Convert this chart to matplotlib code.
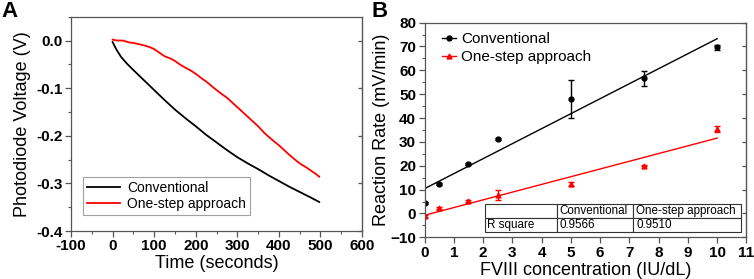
import matplotlib
matplotlib.use("Agg")
import matplotlib.pyplot as plt
from matplotlib.lines import Line2D
from matplotlib.ticker import MultipleLocator
import numpy as np

matplotlib.rcParams['font.family'] = ['Liberation Sans', 'DejaVu Sans']
matplotlib.rcParams['xtick.labelsize'] = 11
matplotlib.rcParams['ytick.labelsize'] = 11

# panel A: photodiode voltage traces
t_conv = [0, 5, 10, 20, 35, 50, 75, 100, 125, 150, 175, 200, 225, 250, 275,
          300, 325, 350, 375, 400, 425, 450, 475, 497]
v_conv = [-0.003, -0.012, -0.020, -0.034, -0.049, -0.062, -0.083, -0.104,
          -0.125, -0.145, -0.163, -0.180, -0.198, -0.214, -0.230, -0.245,
          -0.258, -0.270, -0.283, -0.295, -0.307, -0.318, -0.329, -0.339]

t_one = [0, 10, 25, 40, 50, 65, 75, 90, 100, 115, 125, 140, 150, 165, 175,
         190, 200, 215, 225, 240, 250, 265, 275, 290, 300, 315, 325, 340,
         350, 365, 375, 390, 400, 415, 425, 440, 450, 465, 475, 490, 497]
v_one = [0.002, 0.000, 0.000, -0.004, -0.005, -0.008, -0.010, -0.014,
         -0.018, -0.027, -0.033, -0.038, -0.043, -0.052, -0.057, -0.064,
         -0.070, -0.080, -0.086, -0.097, -0.104, -0.114, -0.120, -0.132,
         -0.140, -0.152, -0.160, -0.172, -0.180, -0.194, -0.202, -0.213,
         -0.220, -0.232, -0.240, -0.251, -0.258, -0.266, -0.272, -0.281,
         -0.286]

# panel B: reaction rates
conc = [0, 0.5, 1.5, 2.5, 5, 7.5, 10]
rate_conv = [4.2, 12.2, 20.8, 31.2, 47.8, 56.6, 69.6]
err_conv = [0.4, 0.4, 0.5, 0.4, 8.0, 3.3, 1.0]
rate_one = [-1.0, 2.2, 5.3, 7.7, 12.3, 20.0, 35.4]
err_one = [0.4, 0.4, 0.4, 2.2, 1.0, 0.3, 1.2]

table_rows = [["", "Conventional", "One-step approach"],
              ["R square", "0.9566", "0.9510"]]

fig = plt.figure(figsize=(7.54, 2.79), dpi=100)

# ---- A ----
axa = fig.add_axes([0.0942, 0.172, 0.386, 0.768])
axa.plot(t_conv, v_conv, color='black', lw=1.3, label='Conventional')
axa.plot(t_one, v_one, color='#ff0000', lw=1.3, label='One-step approach')
axa.set_xlim(-100, 600)
axa.set_ylim(-0.4, 0.05)
axa.xaxis.set_minor_locator(MultipleLocator(50))
axa.yaxis.set_minor_locator(MultipleLocator(0.05))
axa.set_yticks([0.0, -0.1, -0.2, -0.3, -0.4])
axa.set_yticklabels(['0.0', '-0.1', '-0.2', '-0.3', '-0.4'])
axa.set_xticks([-100, 0, 100, 200, 300, 400, 500, 600])
axa.set_xticklabels(['-100', '0', '100', '200', '300', '400', '500', '600'])
axa.set_xlabel('Time (seconds)', fontsize=13, labelpad=1)
axa.set_ylabel('Photodiode Voltage (V)', fontsize=13, labelpad=4)
leg = axa.legend(loc='lower left', bbox_to_anchor=(0.04, 0.075), borderaxespad=0,
                 fontsize=10, fancybox=False, edgecolor='#888888',
                 handlelength=2.4, handletextpad=0.5, labelspacing=0.15,
                 borderpad=0.3)
leg.get_frame().set_linewidth(0.8)

# ---- B ----
axb = fig.add_axes([0.563, 0.1495, 0.427, 0.7695])
axb.errorbar(conc, rate_conv, yerr=err_conv, fmt='o', color='black', ms=3.5,
             elinewidth=1, capsize=2, capthick=1)
axb.errorbar(conc, rate_one, yerr=err_one, fmt='^', color='#ff0000', ms=3.5,
             elinewidth=1, capsize=2, capthick=1)
xfit = np.array([0, 10])
p_conv = np.polyfit(conc, rate_conv, 1)
p_one = np.polyfit(conc, rate_one, 1)
axb.plot(xfit, np.polyval(p_conv, xfit), color='black', lw=1)
axb.plot(xfit, np.polyval(p_one, xfit), color='#ff0000', lw=1)
axb.set_xlim(0, 11)
axb.set_ylim(-10, 80)
axb.xaxis.set_major_locator(MultipleLocator(1))
axb.yaxis.set_major_locator(MultipleLocator(10))
axb.yaxis.set_minor_locator(MultipleLocator(5))
axb.set_xlabel('FVIII concentration (IU/dL)', fontsize=13, labelpad=2)
axb.set_ylabel('Reaction Rate (mV/min)', fontsize=13, labelpad=0)
handles = [Line2D([], [], color='black', marker='o', ms=3.5, lw=1),
           Line2D([], [], color='#ff0000', marker='^', ms=3.5, lw=1)]
axb.legend(handles, ['Conventional', 'One-step approach'], loc='upper left',
           bbox_to_anchor=(0.055, 0.955), borderaxespad=0, borderpad=0,
           frameon=False, fontsize=11, handlelength=0.9,
           handletextpad=0.35, labelspacing=0.25)

tab = axb.table(cellText=table_rows, cellLoc='left',
                colWidths=[0.28, 0.296, 0.42],
                bbox=[0.187, 0.025, 0.797, 0.13])
tab.auto_set_font_size(False)
tab.set_fontsize(8.4)
for cell in tab.get_celld().values():
    cell.set_edgecolor('#333333')
    cell.set_linewidth(0.8)
    cell.PAD = 0.03
tab.set_zorder(5)

for ax in (axa, axb):
    for sp in ax.spines.values():
        sp.set_color('#555555')
        sp.set_linewidth(0.9)
    ax.tick_params(which='major', direction='out', length=4, width=0.9,
                   color='#555555', pad=2)
    ax.tick_params(which='minor', direction='out', length=2.5, width=0.8,
                   color='#555555')
    for lab in ax.get_xticklabels() + ax.get_yticklabels():
        lab.set_fontweight('bold')
    # mirrored ticks on the right side, pointing in
    sec = ax.secondary_yaxis('right')
    sec.set_yticks(ax.get_yticks())
    sec.tick_params(direction='in', length=3, width=0.9, color='#555555',
                    labelright=False)

fig.text(0.002, 0.998, 'A', fontsize=16, fontweight='bold', va='top', ha='left')
fig.text(0.493, 0.998, 'B', fontsize=16, fontweight='bold', va='top', ha='left')

fig.savefig('out.png', dpi=100)
